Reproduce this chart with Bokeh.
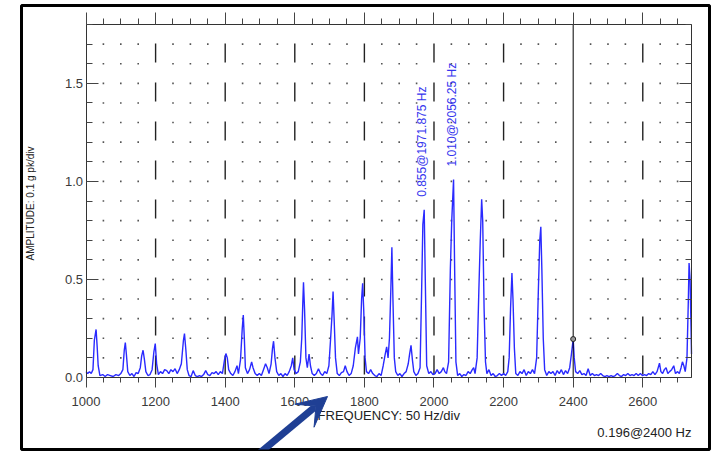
import numpy as np
from bokeh.plotting import figure
from bokeh.models import (LinearAxis, Range1d, SingleIntervalTicker, Label,
                          Arrow, VeeHead, ColumnDataSource, PrintfTickFormatter)
from bokeh.core.properties import value
from bokeh.embed import file_html
from bokeh.resources import INLINE

# ---------------- data ----------------
freq = [1000, 1005, 1010, 1015, 1020, 1024, 1029, 1032, 1035, 1040, 1048, 1055, 1062, 1070, 1078, 1086, 1094,
        1100, 1106, 1110, 1113, 1116, 1120, 1126, 1132, 1138, 1144, 1150, 1156, 1160, 1164, 1168, 1172, 1178,
        1184, 1190, 1195, 1199, 1203, 1208, 1214, 1220, 1226, 1232, 1238, 1244, 1250, 1256, 1262, 1268, 1274,
        1280, 1283, 1287, 1291, 1296, 1302, 1308, 1314, 1320, 1326, 1332, 1338, 1344, 1350, 1356, 1362, 1368,
        1374, 1380, 1386, 1392, 1398, 1402, 1406, 1410, 1416, 1422, 1428, 1434, 1438, 1444, 1449, 1452, 1455,
        1458, 1464, 1470, 1476, 1480, 1486, 1492, 1498, 1504, 1510, 1516, 1521, 1526, 1532, 1536, 1539, 1543,
        1548, 1554, 1560, 1566, 1572, 1578, 1584, 1590, 1594, 1598, 1604, 1610, 1616, 1620, 1623, 1625, 1628,
        1632, 1636, 1641, 1645, 1650, 1656, 1662, 1668, 1674, 1680, 1686, 1692, 1698, 1703, 1707, 1710, 1713,
        1717, 1722, 1728, 1734, 1740, 1745, 1750, 1756, 1762, 1768, 1774, 1780, 1783, 1788, 1792, 1795, 1798,
        1802, 1806, 1812, 1818, 1824, 1830, 1836, 1842, 1848, 1854, 1860, 1864, 1868, 1872, 1876, 1879, 1882,
        1886, 1890, 1896, 1902, 1908, 1914, 1920, 1926, 1930, 1934, 1938, 1942, 1948, 1954, 1960, 1964, 1968,
        1971.875, 1975, 1979, 1985, 1991, 1997, 2003, 2009, 2015, 2021, 2027, 2031, 2036, 2042, 2047, 2051,
        2056.25, 2059, 2063, 2068, 2074, 2080, 2086, 2092, 2098, 2104, 2110, 2114, 2118, 2124, 2129, 2133,
        2137, 2140, 2144, 2148, 2152, 2158, 2164, 2170, 2176, 2182, 2188, 2194, 2200, 2206, 2212, 2216, 2220,
        2224, 2227, 2231, 2235, 2241, 2247, 2253, 2259, 2265, 2271, 2277, 2283, 2289, 2295, 2300, 2304, 2307,
        2310, 2314, 2318, 2324, 2330, 2336, 2342, 2348, 2354, 2360, 2366, 2372, 2378, 2384, 2390, 2395, 2400,
        2403, 2407, 2413, 2419, 2425, 2431, 2437, 2443, 2449, 2455, 2461, 2467, 2473, 2479, 2485, 2491, 2497,
        2503, 2509, 2515, 2521, 2527, 2533, 2539, 2545, 2551, 2557, 2563, 2569, 2575, 2581, 2587, 2593, 2599,
        2605, 2611, 2617, 2623, 2629, 2635, 2641, 2648, 2652, 2657, 2662, 2667, 2672, 2677, 2683, 2689, 2694,
        2700, 2705, 2710, 2714, 2718, 2722, 2727, 2731, 2733, 2736, 2740]
amp = [0.03, 0.02, 0.03, 0.02, 0.04, 0.19, 0.245, 0.16, 0.06, 0.01, 0.015, 0.005, 0.015, 0.01, 0.005, 0.015, 0.01,
       0.02, 0.04, 0.14, 0.178, 0.12, 0.03, 0.01, 0.02, 0.005, 0.025, 0.02, 0.05, 0.11, 0.139, 0.09, 0.03, 0.01,
       0.015, 0.04, 0.13, 0.173, 0.07, 0.015, 0.03, 0.02, 0.04, 0.035, 0.02, 0.04, 0.03, 0.045, 0.02, 0.04, 0.07,
       0.19, 0.224, 0.14, 0.04, 0.01, 0.005, 0.035, 0.01, 0.005, 0.01, 0.005, 0.015, 0.035, 0.015, 0.01, 0.025, 0.02,
       0.03, 0.015, 0.03, 0.02, 0.09, 0.122, 0.1, 0.04, 0.02, 0.01, 0.03, 0.06, 0.02, 0.09, 0.25, 0.318, 0.2,
       0.05, 0.02, 0.04, 0.079, 0.05, 0.02, 0.01, 0.02, 0.01, 0.04, 0.07, 0.05, 0.02, 0.07, 0.15, 0.185, 0.1,
       0.03, 0.01, 0.02, 0.005, 0.02, 0.01, 0.03, 0.06, 0.1, 0.04, 0.02, 0.03, 0.08, 0.2, 0.38, 0.485, 0.35,
       0.1, 0.05, 0.12, 0.06, 0.02, 0.01, 0.02, 0.045, 0.02, 0.01, 0.03, 0.02, 0.06, 0.2, 0.32, 0.438, 0.3,
       0.1, 0.02, 0.01, 0.025, 0.03, 0.06, 0.03, 0.01, 0.02, 0.06, 0.15, 0.207, 0.12, 0.2, 0.4, 0.48, 0.35,
       0.1, 0.03, 0.02, 0.04, 0.02, 0.01, 0.005, 0.02, 0.01, 0.06, 0.12, 0.156, 0.1, 0.2, 0.45, 0.664, 0.4,
       0.1, 0.03, 0.01, 0.02, 0.005, 0.02, 0.03, 0.07, 0.12, 0.164, 0.09, 0.03, 0.01, 0.02, 0.05, 0.4, 0.78,
       0.855, 0.5, 0.06, 0.02, 0.03, 0.015, 0.02, 0.04, 0.02, 0.03, 0.05, 0.03, 0.02, 0.08, 0.55, 0.8,
       1.010, 0.6, 0.08, 0.01, 0.02, 0.005, 0.015, 0.01, 0.03, 0.02, 0.04, 0.05, 0.02, 0.1, 0.45, 0.7,
       0.909, 0.8, 0.35, 0.08, 0.02, 0.04, 0.01, 0.02, 0.005, 0.01, 0.02, 0.01, 0.02, 0.01, 0.03, 0.1, 0.35,
       0.533, 0.4, 0.15, 0.02, 0.01, 0.03, 0.02, 0.04, 0.01, 0.03, 0.02, 0.04, 0.02, 0.1, 0.45, 0.7, 0.769,
       0.55, 0.2, 0.04, 0.01, 0.03, 0.02, 0.03, 0.01, 0.035, 0.02, 0.04, 0.015, 0.035, 0.02, 0.05, 0.12, 0.196,
       0.1, 0.03, 0.02, 0.035, 0.015, 0.02, 0.01, 0.045, 0.01, 0.02, 0.01, 0.015, 0.01, 0.02, 0.01, 0.005, 0.01,
       0.005, 0.01, 0.005, 0.01, 0.02, 0.01, 0.005, 0.015, 0.01, 0.02, 0.01, 0.015, 0.01, 0.02, 0.01, 0.02, 0.01,
       0.015, 0.01, 0.02, 0.015, 0.03, 0.015, 0.03, 0.073, 0.03, 0.02, 0.04, 0.05, 0.02, 0.03, 0.04, 0.06, 0.02,
       0.03, 0.02, 0.05, 0.08, 0.06, 0.03, 0.1, 0.4, 0.584, 0.5, 0.12]

peak_freq = [1971.875, 2056.25]
peak_amp = [0.855, 1.010]
cursor_freq = 2400
cursor_amp = 0.196

x_major = 200
x_minor = 50
y_major = 0.5
y_minor = 0.1
x_start, x_end = 1000, 2740
y_start, y_end = 0.0, 1.8

x_title = "FREQUENCY: 50 Hz/div"
y_title = "AMPLITUDE: 0.1 g pk/div"

# ---------------- layout (pixels) ----------------
W, H = 717, 454
PX0, PX1 = 85.5, 691.0      # plot area left/right
PY0, PY1 = 377.0, 24.0      # y=0 and y=1.8
FL, FR, FT, FB = 21, 709, 5, 449   # outer framed box
kx = (x_end - x_start) / (PX1 - PX0)
ky = (y_end - y_start) / (PY0 - PY1)

FONT = "Liberation Sans"
AX = "#333333"

p = figure(width=W, height=H, output_backend="svg", toolbar_location=None,
           x_range=Range1d(x_start - (PX0 - FL) * kx, x_end + (FR - PX1) * kx),
           y_range=Range1d(y_start - (FB - PY0) * ky, y_end + (PY1 - FT) * ky),
           x_axis_location=None, y_axis_location=None,
           min_border_left=FL, min_border_right=W - FR, min_border_top=FT, min_border_bottom=H - FB)
p.outline_line_color = "black"
p.outline_line_width = 3
p.background_fill_color = "white"
p.border_fill_color = "white"
p.xgrid.visible = False
p.ygrid.visible = False

xt = SingleIntervalTicker(interval=x_major, num_minor_ticks=int(x_major / x_minor))
yt = SingleIntervalTicker(interval=y_major, num_minor_ticks=int(round(y_major / y_minor)))


def make_axis(ticker, loc, bounds, tin, tout, mtin, mtout, labels=True, standoff=4):
    ax = LinearAxis(ticker=ticker, fixed_location=loc, bounds=bounds)
    ax.axis_line_color = AX
    ax.axis_line_width = 1
    ax.major_tick_line_color = "#444444"
    ax.minor_tick_line_color = "#444444"
    ax.major_tick_in = tin
    ax.major_tick_out = tout
    ax.minor_tick_in = mtin
    ax.minor_tick_out = mtout
    if labels:
        ax.major_label_text_font = FONT
        ax.major_label_text_font_size = "13px"
        ax.major_label_text_color = "#3a3a3a"
        ax.major_label_standoff = standoff
    else:
        ax.major_label_text_color = None
        ax.major_label_text_font_size = "1px"
        ax.major_label_standoff = 0
    return ax


bottom = make_axis(xt, y_start, (x_start, x_end), 0, 10, 0, 5, standoff=9)
left = make_axis(yt, x_start, (y_start, y_end), 12, 0, 6, 0, standoff=3)
left.formatter = PrintfTickFormatter(format="%.1f")
top = make_axis(xt, y_end, (x_start, x_end), 0, 12, 0, 6, labels=False)
right = make_axis(yt, x_end, (y_start, y_end), 12, 0, 6, 0, labels=False)
p.add_layout(bottom, "below")
p.add_layout(left, "left")
p.add_layout(top, "above")
p.add_layout(right, "right")

# dashed verticals at major frequency ticks (drawn top -> bottom)
grid_x = [f for f in range(x_start + x_major, x_end, x_major) if f != cursor_freq]
p.segment(x0=grid_x, y0=[y_end] * len(grid_x), x1=grid_x, y1=[y_start] * len(grid_x),
          line_color="#222222", line_width=1.4, line_dash="19 20", line_dash_offset=20)

# dotted field
dot_x = [f for f in np.arange(x_start + x_minor, x_end, x_minor) if f % x_major != 0]
dot_y = list(np.round(np.arange(y_minor, y_end - 1e-9, y_minor), 2))
gx, gy = np.meshgrid(dot_x, dot_y)
p.scatter(gx.ravel(), gy.ravel(), marker="square", size=1.6, fill_color="#555555", line_color=None)

# spectrum
p.line(freq, amp, line_color="#2a2aff", line_width=1.4)

# cursor
p.segment(x0=[cursor_freq], y0=[y_start], x1=[cursor_freq], y1=[y_end], line_color="black", line_width=1)
p.scatter([cursor_freq], [cursor_amp], marker="circle", size=5, fill_color="#999999",
          line_color="#222222", line_width=1)

# peak labels
src = ColumnDataSource(dict(x=peak_freq, y=peak_amp,
                            t=[f"{a:.3f}@{f} Hz" for f, a in zip(peak_freq, peak_amp)]))
p.text(x="x", y="y", text="t", source=src, angle=np.pi / 2, text_align="left",
       text_baseline="middle", x_offset=-2, y_offset=-13, text_color="#3535ee",
       text_font=value(FONT), text_font_size="12px")

# axis titles
p.add_layout(Label(x=(x_start + x_end) / 2, y=y_start, text=x_title, text_align="center",
                   text_baseline="middle", y_offset=-(415 - PY0),
                   text_font=FONT, text_font_size="13px", text_color="#222222"))
p.add_layout(Label(x=x_start, y=(y_start + y_end) / 2, text=y_title, angle=np.pi / 2,
                   text_align="center", text_baseline="middle", x_offset=30 - PX0, y_offset=-2.5,
                   text_font=FONT, text_font_size="10px", text_color="#222222"))

# cursor readout
p.add_layout(Label(x=x_end, y=y_start, text=f"{cursor_amp:.3f}@{cursor_freq} Hz",
                   text_align="right", text_baseline="middle", y_offset=-(432 - PY0),
                   text_font=FONT, text_font_size="13px", text_color="#222222"))

# blue arrow
p.add_layout(Arrow(end=VeeHead(size=30, fill_color="#1f3f94", line_color="#1f3f94"),
                   x_start=x_start + (255 - PX0) * kx, y_start=-(456 - PY0) * ky,
                   x_end=x_start + (327 - PX0) * kx, y_end=-(396 - PY0) * ky,
                   line_color="#1f3f94", line_width=7))

open("out.html", "w").write(file_html(p, INLINE))
